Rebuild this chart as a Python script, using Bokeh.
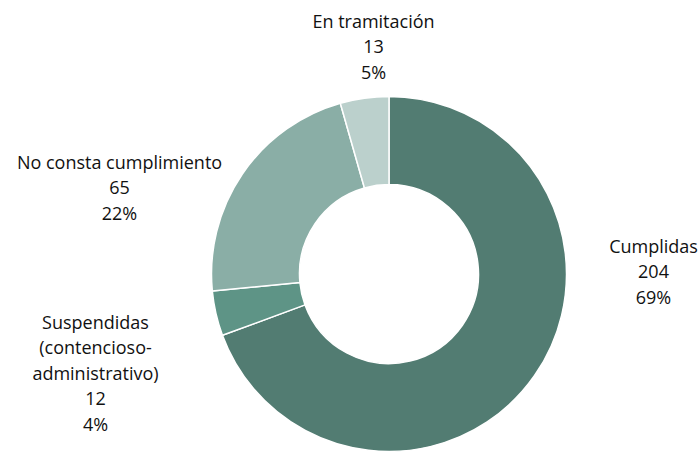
import numpy as np
from bokeh.plotting import figure
from bokeh.models import Range1d, ColumnDataSource
from bokeh.core.properties import value
from bokeh.embed import file_html
from bokeh.resources import INLINE

# ---- data ----
categories = ["Cumplidas", "Suspendidas\n(contencioso-\nadministrativo)",
              "No consta cumplimiento", "En tramitación"]
counts = [204, 12, 65, 13]
pct_labels = ["69%", "4%", "22%", "5%"]
colors = ["#527c72", "#5e9486", "#8aaea6", "#bbd0cc"]

# ---- layout (reference pixel coordinates; y measured from top) ----
W, H = 700, 456
cx, cy_top = 388.5, 273.5
r_out, r_in = 177.5, 89.5
label_xy_top = [(653, 271), (95, 372), (119, 186.5), (373, 46)]
line_step = 25.5

def fy(y_top):
    return H - y_top

total = float(sum(counts))
cum = np.concatenate([[0], np.cumsum(counts)])
a = np.pi / 2 - 2 * np.pi * cum / total
src = ColumnDataSource(dict(start=a[1:], end=a[:-1], color=colors))

p = figure(width=W, height=H, x_range=Range1d(0, W), y_range=Range1d(0, H),
           output_backend="svg", toolbar_location=None, min_border=0)
p.axis.visible = False
p.grid.visible = False
p.outline_line_color = None
p.background_fill_color = "white"

p.annular_wedge(x=cx, y=fy(cy_top), inner_radius=r_in, outer_radius=r_out,
                start_angle="start", end_angle="end", direction="anticlock",
                fill_color="color", line_color="white", line_width=1.5, source=src)

xs, ys, ts = [], [], []
for c, n, pc, (lx, ly) in zip(categories, counts, pct_labels, label_xy_top):
    lines = c.split("\n") + [str(n), pc]
    k = len(lines)
    for i, t in enumerate(lines):
        xs.append(lx)
        ys.append(fy(ly + (i - (k - 1) / 2) * line_step))
        ts.append(t)
lsrc = ColumnDataSource(dict(x=xs, y=ys, t=ts))
p.text(x="x", y="y", text="t", source=lsrc, text_align="center", text_baseline="middle",
       text_font=value("Open Sans"), text_font_size="18px", text_color="#111111")

open("out.html", "w").write(file_html(p, INLINE))
